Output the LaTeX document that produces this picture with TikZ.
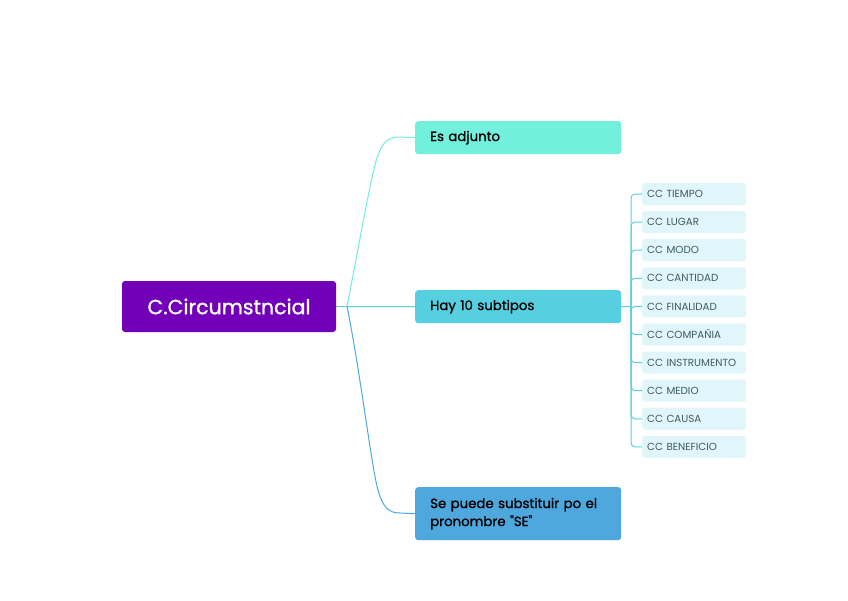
\documentclass[tikz,border=0pt]{standalone}
\usepackage{fontspec}
\setmainfont{Poppins}
\newfontfamily\pop{Poppins}
\newfontfamily\popm{Poppins}[FakeBold=1.2]
\begin{document}
\begin{tikzpicture}[x=1pt,y=-1pt,
  root/.style={draw=none,fill=rootc,rounded corners=3pt,minimum width=214pt,minimum height=51pt,inner sep=0pt,text=white,font=\popm\fontsize{20.5}{24}\selectfont},
  topic/.style={draw=none,rounded corners=3pt,minimum width=206pt,inner sep=0pt,text=black,font=\popm\fontsize{13.3}{18}\selectfont,anchor=north west,align=left,text width=192pt},
  sub/.style={draw=none,fill=subc,rounded corners=3pt,minimum width=104pt,minimum height=22pt,inner sep=0pt,text=subt,font=\pop\fontsize{10.3}{12}\selectfont,anchor=west,align=left,text width=100pt},
  link/.style={line width=1pt}]
\definecolor{rootc}{HTML}{7200B8}
\definecolor{c1}{HTML}{72EFDD}
\definecolor{c2}{HTML}{56CFE1}
\definecolor{c3}{HTML}{4EA8DE}
\definecolor{subc}{HTML}{E1F6FA}
\definecolor{subt}{HTML}{3B5B63}
\useasboundingbox (0,0) rectangle (848,600);
\fill[white] (0,0) rectangle (848,600);
\node[root] (R) at (229,306.5) {C.Circumstncial};
\node[topic,fill=c1,minimum height=33pt] (A) at (415,121) {\hspace*{8pt}Es adjunto};
\node[topic,fill=c2,minimum height=33pt] (B) at (415,290) {\hspace*{8pt}Hay 10 subtipos};
\node[topic,fill=c3,minimum height=53pt] (C) at (415,487) {\hspace*{8pt}\parbox[c]{190pt}{\raggedright Se puede substituir po el\\pronombre "SE"}};
\coordinate (J) at (347,306.5);
\draw[link,c2] (R.east) -- (J);
\draw[link,c1] (J) .. controls (360,240) and (372,170) .. (378,155) .. controls (383,142) and (388,137) .. (400,137) -- (A.west);
\draw[link,c2] (J) -- (B.west);
\draw[link,c3] (J) .. controls (360,370) and (372,470) .. (378,490) .. controls (383,507) and (388,513) .. (400,513) -- (C.west);
\coordinate (V) at (631,306.5);
\draw[link,c2] (B.east) -- (V);
\foreach \t [count=\i] in {CC TIEMPO,CC LUGAR,CC MODO,CC CANTIDAD,CC FINALIDAD,CC COMPAÑIA,CC INSTRUMENTO,CC MEDIO,CC CAUSA,CC BENEFICIO}{
  \pgfmathsetmacro{\yy}{194+(\i-1)*28.1}
  \node[sub] (S\i) at (642,\yy) {\hspace*{3pt}\t};
}
\foreach \i in {1,...,10}{
  \draw[link,c2,rounded corners=4pt] (V) |- (S\i.west);
}
\end{tikzpicture}
\end{document}
